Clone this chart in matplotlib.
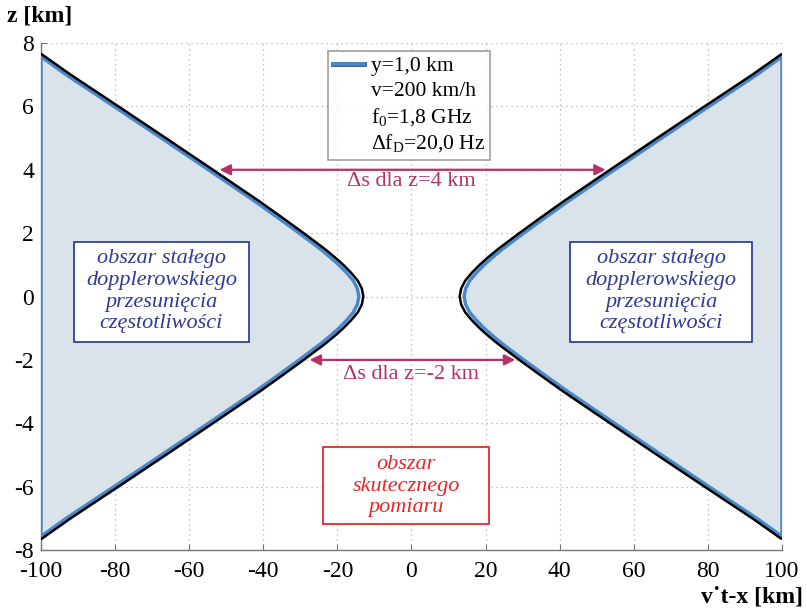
import matplotlib
matplotlib.use("Agg")
import matplotlib.pyplot as plt
from matplotlib.lines import Line2D
from matplotlib.patches import Patch, Rectangle
import matplotlib.patheffects as pe
import numpy as np

plt.rcParams['font.family'] = ['Liberation Serif', 'DejaVu Serif']
plt.rcParams['mathtext.fontset'] = 'custom'
plt.rcParams['mathtext.rm'] = 'Liberation Serif'
plt.rcParams['mathtext.it'] = 'Liberation Serif:italic'
plt.rcParams['axes.unicode_minus'] = False

# ---- data (right half, z >= 0) ----
z_pts = [0.0, 0.25, 0.5, 0.75, 1.0, 1.25, 1.5, 2.0, 2.5, 3.0, 4.0, 5.0, 6.0, 7.0, 7.66]
x_black = [13.0, 13.4, 14.5, 16.3, 18.4, 20.8, 23.4, 29.1, 35.0, 41.0, 53.6, 66.3, 79.1, 92.0, 100.0]
z_blue = [0.0, 0.25, 0.5, 0.75, 1.0, 1.25, 1.5, 2.0, 2.5, 3.0, 4.0, 5.0, 6.0, 7.0, 7.57]
x_blue = [14.2, 14.6, 15.7, 17.5, 19.6, 22.0, 24.6, 30.3, 36.2, 42.2, 54.8, 67.5, 80.3, 93.2, 100.0]

x_ticks = [-100, -80, -60, -40, -20, 0, 20, 40, 60, 80, 100]
z_ticks = [-8, -6, -4, -2, 0, 2, 4, 6, 8]

arrow_z = [4.0, -2.0]
arrow_left = [-51.8, -27.5]
arrow_right = [52.4, 28.0]
arrow_labels = ["Δs dla z=4 km", "Δs dla z=-2 km"]
arrow_label_z = [3.62, -2.45]

legend_lines = ["y=1,0 km", "v=200 km/h", "f$_0$=1,8 GHz", "Δf$_\\mathrm{D}$=20,0 Hz"]

region_text = "obszar stałego\ndopplerowskiego\nprzesunięcia\nczęstotliwości"
measure_text = "obszar\nskutecznego\npomiaru"

# mirror to full curves
zb = np.array(z_pts); xb = np.array(x_black)
zl = np.array(z_blue); xl = np.array(x_blue)
zb_full = np.concatenate([-zb[::-1], zb[1:]])
xb_full = np.concatenate([xb[::-1], xb[1:]])
zl_full = np.concatenate([-zl[::-1], zl[1:]])
xl_full = np.concatenate([xl[::-1], xl[1:]])

fig = plt.figure(figsize=(8.07, 6.11), dpi=100)
ax = fig.add_axes([0.0508, 0.0998, 0.9182, 0.8298])

fill_c = '#dbe3ea'
blue_c = '#4a88cc'
for s in (-1, 1):
    ax.fill_betweenx(zl_full, s * xl_full, s * 100, color=fill_c, lw=0, zorder=1)
    ax.plot(np.concatenate([[s * 100], s * xl_full, [s * 100], [s * 100]]),
            np.concatenate([[zl_full[0]], zl_full, [zl_full[-1]], [zl_full[0]]]),
            color=blue_c, lw=2.5, zorder=3, solid_joinstyle='miter')
    ax.plot(s * xb_full, zb_full, color='black', lw=1.8, zorder=4, solid_capstyle='butt')

ax.set_xlim(-100, 100)
ax.set_ylim(-8, 8)
ax.set_xticks(x_ticks)
ax.set_yticks(z_ticks)
ax.grid(True, linestyle=(0, (1, 3)), color='#b0b0b0', lw=0.9)
ax.set_axisbelow(True)
for sp in ('top', 'right'):
    ax.spines[sp].set_visible(False)
for sp in ('left', 'bottom'):
    ax.spines[sp].set_color('#777777')
    ax.spines[sp].set_linewidth(1.0)
ax.tick_params(direction='in', length=4, color='#777777', labelsize=17)
ax.tick_params(axis='x', pad=8)
ax.tick_params(axis='y', pad=5)

# arrows
arr_c = '#b73068'
for zz, xl0, xr0, lab, lz in zip(arrow_z, arrow_left, arrow_right, arrow_labels, arrow_label_z):
    ax.annotate('', xy=(xl0, zz), xytext=(xr0, zz),
                arrowprops=dict(arrowstyle='<|-|>', color=arr_c, lw=1.6,
                                mutation_scale=16, shrinkA=0, shrinkB=0), zorder=6)
    ax.text(0, lz, lab, color=arr_c, fontsize=16, ha='center', va='center', zorder=6)

# region boxes
def box(x0, x1, z0, z1, ec):
    ax.add_patch(Rectangle((x0, z0), x1 - x0, z1 - z0, fc='white', ec=ec, lw=1.3, zorder=7))

txt_kw = dict(fontsize=16, style='italic', ha='center', va='center',
              linespacing=1.2, zorder=8)
box(-91.2, -43.9, -1.44, 1.72, '#3341a0')
ax.text(-67.5, 0.17, region_text, color='#2e3a96', **txt_kw)
box(42.8, 92.0, -1.44, 1.72, '#3341a0')
ax.text(67.4, 0.17, region_text, color='#2e3a96', **txt_kw)
box(-23.9, 21.0, -7.18, -4.75, '#e8262a')
ax.text(-1.4, -5.98, measure_text, color='#e8262a', **txt_kw)

# legend
handles = [Line2D([0], [0], color=blue_c, lw=2.6,
                  path_effects=[pe.Stroke(linewidth=3.4, foreground='#2a4f80'), pe.Normal()])] + \
          [Patch(visible=False)] * 3
leg = ax.legend(handles, legend_lines, loc='upper center', bbox_to_anchor=(0.4965, 0.985),
                fontsize=15.5, frameon=True, fancybox=False, edgecolor='#888888',
                handlelength=1.45, handletextpad=0.3, labelspacing=0.22,
                borderpad=0.25, borderaxespad=0)
leg.get_frame().set_linewidth(1.2)
leg.set_zorder(9)

# axis labels
fig.text(7 / 807, 1 - 16 / 611, "z [km]", fontsize=17, fontweight='bold', ha='left', va='center')
fig.text(803 / 807, 1 - 597 / 611, "v˙t-x [km]", fontsize=17, fontweight='bold', ha='right', va='center')

fig.savefig('out.png', dpi=100)
